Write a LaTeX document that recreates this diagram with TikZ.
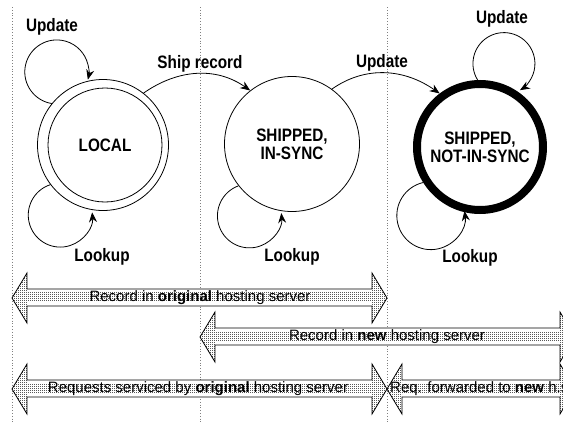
\documentclass[tikz,border=0pt]{standalone}
\usepackage{fontspec}
\setmainfont{Liberation Sans}
\newfontfamily\lblfont[FakeStretch=0.85]{Liberation Sans}
\usetikzlibrary{patterns,arrows.meta}
\pgfdeclarepatternformonly{stipple}{\pgfpointorigin}{\pgfpoint{2pt}{2pt}}{\pgfpoint{2pt}{2pt}}{%
  \pgfpathrectangle{\pgfpointorigin}{\pgfpoint{1.1pt}{1.1pt}}\pgfusepath{fill}}
\newcommand\blockarrow[3]{%
  \fill[white] (#1,#3) -- (#1+15,#3-25) -- (#1+15,#3+25) -- cycle;
  \fill[white] (#2,#3) -- (#2-15,#3-25) -- (#2-15,#3+25) -- cycle;
  \fill[white] (#1+15,#3-9) rectangle (#2-15,#3+8);
  \fill[pattern=stipple] (#1,#3) -- (#1+15,#3-25) -- (#1+15,#3+25) -- cycle;
  \fill[pattern=stipple] (#2,#3) -- (#2-15,#3-25) -- (#2-15,#3+25) -- cycle;
  \fill[pattern=stipple] (#1+15,#3-6) rectangle (#2-15,#3+3);
  \draw[line width=0.8pt, line join=miter] (#1,#3) -- (#1+15,#3-25) -- (#1+15,#3-9) -- (#2-15,#3-9) -- (#2-15,#3-25)
    -- (#2,#3) -- (#2-15,#3+25) -- (#2-15,#3+8) -- (#1+15,#3+8) -- (#1+15,#3+25) -- cycle;}
\tikzset{
  state/.style={circle, draw, line width=0.8pt, font=\lblfont\bfseries\fontsize{18}{18}\selectfont, align=center, inner sep=0pt},
  lbl/.style={font=\lblfont\bfseries\fontsize{18}{18}\selectfont, inner sep=0pt},
  bartext/.style={font=\fontsize{15}{15}\selectfont, inner sep=0pt},
  conn/.style={line width=0.8pt, -{Stealth[length=10pt,width=8pt]}},
  guide/.style={gray, dotted, line width=0.8pt}
}
\begin{document}
\begin{tikzpicture}[x=1pt,y=-1pt]
\useasboundingbox (0,0) rectangle (563,423);
\begin{scope}
\clip (0,0) rectangle (563,423);
% guides
\coordinate (g1t) at (12,7);   \coordinate (g1b) at (12,423);
\coordinate (g2t) at (200,7);  \coordinate (g2b) at (200,423);
\coordinate (g3t) at (387,7);  \coordinate (g3b) at (387,423);
\draw[guide] (g1t) -- (g1b);
\draw[guide] (g2t) -- (g2b);
\draw[guide] (g3t) -- (g3b);
% states
\node[state, minimum size=114pt] (localin) at (105,145) {LOCAL};
\node[state, minimum size=131pt] (local) at (103,145) {};
\node[state, minimum size=135pt] (insync) at (292,144) {SHIPPED,\\[0pt]IN-SYNC};
\node[state, line width=8pt, minimum size=126pt] (notsync) at (480,147) {SHIPPED,\\[0pt]NOT-IN-SYNC};
% loops
\draw[conn] (local.141) arc[start angle=-261, end angle=14, radius=32];
\node[lbl] (upd1) at (52,27) {Update};
\draw[conn] (local.217) arc[start angle=-108, end angle=-365, radius=32];
\node[lbl] (look1) at (102,257) {Lookup};
\draw[conn] (insync.218) arc[start angle=-110, end angle=-365, radius=32];
\node[lbl] (look2) at (292,257) {Lookup};
\draw[conn] (notsync.212) arc[start angle=-103, end angle=-368, radius=34];
\node[lbl] (look3) at (470,258) {Lookup};
\draw[conn] (notsync.92) arc[start angle=-212, end angle=59, radius=31];
\node[lbl] (upd3) at (502,19) {Update};
% transitions
\draw[conn] (local.52) to[out=35, in=145] (insync.128);
\node[lbl] (ship) at (200,64) {Ship record};
\draw[conn] (insync.54) to[out=35, in=145] (notsync.127);
\node[lbl] (upd2) at (382,63) {Update};
% bars
\blockarrow{12}{387}{298}
\node[bartext] (b1) at (200,298) {Record in \textbf{original} hosting server};
\blockarrow{200}{575}{337}
\node[bartext] (b2) at (387,337) {Record in \textbf{new} hosting server};
\blockarrow{12}{387}{389}
\node[bartext] (b3) at (198,389) {Requests serviced by \textbf{original} hosting server};
\blockarrow{387}{575}{389}
\node[bartext, anchor=west] (b4) at (390,389) {Req. forwarded to \textbf{new} h.s.};
\end{scope}
\end{tikzpicture}
\end{document}
